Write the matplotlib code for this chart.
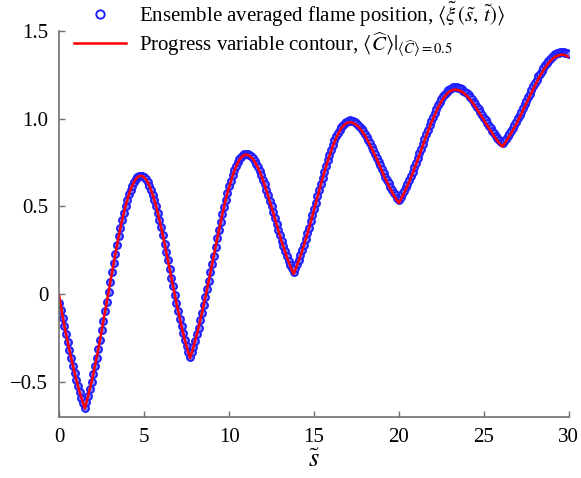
import numpy as np
import matplotlib.pyplot as plt

s_blue = np.round(np.arange(0, 301) * 0.1, 1)

flame_pos = [
    -0.050, -0.093, -0.139, -0.184, -0.230, -0.275, -0.321, -0.365, -0.408, -0.448,
    -0.488, -0.525, -0.560, -0.591, -0.622, -0.648, -0.617, -0.580, -0.541, -0.500,
    -0.457, -0.410, -0.362, -0.312, -0.260, -0.207, -0.153, -0.098, -0.043, 0.013,
    0.068, 0.124, 0.175, 0.228, 0.280, 0.329, 0.377, 0.421, 0.463, 0.500,
    0.536, 0.568, 0.596, 0.619, 0.639, 0.655, 0.666, 0.672, 0.675, 0.672,
    0.665, 0.654, 0.639, 0.619, 0.595, 0.567, 0.535, 0.501, 0.463, 0.422,
    0.380, 0.335, 0.288, 0.240, 0.192, 0.143, 0.093, 0.045, -0.004, -0.053,
    -0.097, -0.142, -0.184, -0.224, -0.263, -0.296, -0.329, -0.360, -0.331, -0.299,
    -0.265, -0.229, -0.191, -0.150, -0.108, -0.064, -0.019, 0.027, 0.075, 0.124,
    0.171, 0.220, 0.269, 0.317, 0.363, 0.409, 0.454, 0.497, 0.539, 0.577,
    0.614, 0.647, 0.678, 0.706, 0.730, 0.751, 0.769, 0.783, 0.792, 0.798,
    0.800, 0.798, 0.793, 0.785, 0.775, 0.761, 0.744, 0.725, 0.703, 0.679,
    0.653, 0.625, 0.595, 0.564, 0.532, 0.500, 0.467, 0.433, 0.400, 0.367,
    0.335, 0.304, 0.274, 0.245, 0.217, 0.191, 0.168, 0.146, 0.125, 0.147,
    0.171, 0.196, 0.223, 0.251, 0.282, 0.313, 0.346, 0.379, 0.414, 0.449,
    0.486, 0.521, 0.558, 0.594, 0.630, 0.664, 0.699, 0.732, 0.764, 0.795,
    0.824, 0.852, 0.876, 0.899, 0.920, 0.938, 0.954, 0.966, 0.977, 0.984,
    0.988, 0.990, 0.989, 0.985, 0.981, 0.974, 0.965, 0.955, 0.943, 0.929,
    0.914, 0.897, 0.879, 0.860, 0.840, 0.820, 0.799, 0.778, 0.756, 0.734,
    0.713, 0.692, 0.670, 0.651, 0.631, 0.612, 0.595, 0.578, 0.563, 0.549,
    0.535, 0.551, 0.569, 0.588, 0.608, 0.629, 0.652, 0.675, 0.699, 0.725,
    0.750, 0.777, 0.804, 0.830, 0.858, 0.885, 0.912, 0.937, 0.963, 0.988,
    1.012, 1.035, 1.056, 1.077, 1.095, 1.112, 1.128, 1.141, 1.153, 1.163,
    1.170, 1.175, 1.179, 1.180, 1.179, 1.177, 1.173, 1.168, 1.161, 1.153,
    1.144, 1.134, 1.123, 1.110, 1.097, 1.083, 1.068, 1.053, 1.038, 1.022,
    1.006, 0.991, 0.975, 0.960, 0.945, 0.930, 0.917, 0.904, 0.891, 0.880,
    0.870, 0.860, 0.872, 0.886, 0.900, 0.915, 0.931, 0.948, 0.965, 0.983,
    1.002, 1.022, 1.041, 1.062, 1.082, 1.103, 1.123, 1.143, 1.164, 1.184,
    1.203, 1.222, 1.241, 1.257, 1.274, 1.290, 1.306, 1.319, 1.331, 1.343,
    1.352, 1.361, 1.368, 1.373, 1.376, 1.379, 1.380, 1.379, 1.377, 1.373,
    1.368,
]

contour = [
    -0.010, -0.070, -0.130, -0.182, -0.230, -0.275, -0.321, -0.365, -0.408, -0.448,
    -0.488, -0.525, -0.560, -0.591, -0.624, -0.652, -0.619, -0.580, -0.541, -0.500,
    -0.457, -0.410, -0.362, -0.312, -0.260, -0.207, -0.153, -0.098, -0.043, 0.013,
    0.068, 0.124, 0.175, 0.228, 0.280, 0.329, 0.377, 0.421, 0.463, 0.500,
    0.536, 0.568, 0.596, 0.619, 0.639, 0.655, 0.666, 0.672, 0.675, 0.672,
    0.665, 0.654, 0.639, 0.619, 0.595, 0.567, 0.535, 0.501, 0.463, 0.422,
    0.380, 0.335, 0.288, 0.240, 0.192, 0.143, 0.093, 0.045, -0.004, -0.053,
    -0.097, -0.142, -0.184, -0.226, -0.266, -0.300, -0.335, -0.366, -0.336, -0.301,
    -0.265, -0.229, -0.191, -0.150, -0.108, -0.064, -0.019, 0.027, 0.075, 0.124,
    0.171, 0.220, 0.269, 0.317, 0.363, 0.409, 0.454, 0.497, 0.539, 0.577,
    0.609, 0.642, 0.673, 0.701, 0.725, 0.746, 0.764, 0.778, 0.787, 0.793,
    0.795, 0.793, 0.788, 0.780, 0.770, 0.756, 0.739, 0.720, 0.698, 0.674,
    0.648, 0.620, 0.590, 0.559, 0.527, 0.495, 0.462, 0.428, 0.395, 0.362,
    0.330, 0.299, 0.269, 0.240, 0.211, 0.184, 0.160, 0.137, 0.115, 0.139,
    0.165, 0.191, 0.218, 0.246, 0.277, 0.308, 0.341, 0.374, 0.409, 0.444,
    0.481, 0.516, 0.553, 0.589, 0.625, 0.659, 0.692, 0.725, 0.756, 0.786,
    0.814, 0.842, 0.866, 0.889, 0.910, 0.928, 0.944, 0.956, 0.967, 0.974,
    0.978, 0.980, 0.979, 0.975, 0.971, 0.964, 0.955, 0.945, 0.933, 0.919,
    0.904, 0.887, 0.869, 0.850, 0.830, 0.810, 0.789, 0.768, 0.746, 0.724,
    0.702, 0.680, 0.658, 0.638, 0.617, 0.598, 0.580, 0.563, 0.547, 0.533,
    0.520, 0.537, 0.556, 0.576, 0.596, 0.617, 0.640, 0.663, 0.687, 0.713,
    0.738, 0.765, 0.792, 0.818, 0.846, 0.873, 0.900, 0.925, 0.951, 0.976,
    0.998, 1.021, 1.042, 1.063, 1.081, 1.098, 1.114, 1.127, 1.139, 1.149,
    1.156, 1.161, 1.165, 1.166, 1.165, 1.163, 1.159, 1.154, 1.147, 1.139,
    1.130, 1.120, 1.109, 1.096, 1.083, 1.069, 1.054, 1.039, 1.024, 1.008,
    0.992, 0.977, 0.961, 0.945, 0.930, 0.915, 0.901, 0.887, 0.874, 0.862,
    0.851, 0.842, 0.856, 0.871, 0.885, 0.900, 0.916, 0.933, 0.950, 0.968,
    0.987, 1.007, 1.026, 1.047, 1.067, 1.088, 1.108, 1.128, 1.149, 1.169,
    1.188, 1.207, 1.226, 1.242, 1.259, 1.275, 1.291, 1.304, 1.316, 1.328,
    1.337, 1.346, 1.353, 1.358, 1.361, 1.364, 1.365, 1.364, 1.362, 1.358,
    1.353,
]

xticks = [0, 5, 10, 15, 20, 25, 30]
yticks = [-0.5, 0, 0.5, 1.0, 1.5]
ytick_labels = ["\u22120.5", "0", "0.5", "1.0", "1.5"]

plt.rcParams['font.family'] = ['Liberation Serif', 'DejaVu Serif']
plt.rcParams['mathtext.fontset'] = 'stix'

fig = plt.figure(figsize=(5.81, 4.78), dpi=100)
ax = fig.add_axes([0.102, 0.128, 0.877, 0.807])

ax.plot(s_blue, flame_pos, 'o', ms=5, mfc='#8080ff', mec='#2020ff', mew=1.4,
        label=r"Ensemble averaged flame position, $\langle\tilde{\xi}\,(\tilde{s},\,\tilde{t})\rangle$")
ax.plot(s_blue, contour, '-', color='red', lw=1.8,
        label=r"Progress variable contour, $\langle\widehat{C}\rangle|_{\langle\widehat{C}\rangle=0.5}$")

ax.set_xlim(0, 30)
ax.set_ylim(-0.7, 1.5)
ax.set_xticks(xticks)
ax.set_yticks(yticks)
ax.set_yticklabels(ytick_labels)
ax.set_xlabel(r"$\tilde{s}$", fontsize=19, labelpad=2)

for side in ['top', 'right']:
    ax.spines[side].set_visible(False)
for side in ['left', 'bottom']:
    ax.spines[side].set_color('#707070')
    ax.spines[side].set_linewidth(1.2)
ax.tick_params(direction='in', length=4, width=1, color='#707070',
               labelsize=15, pad=8)

leg = fig.legend(loc='upper left', bbox_to_anchor=(0.095, 1.04), frameon=False,
                 fontsize=15, markerscale=1.0, handlelength=2.5, handletextpad=0.6,
                 labelspacing=0.05)
leg.legend_handles[0].set_markerfacecolor('none')
leg.legend_handles[0].set_markersize(6)

fig.savefig('out.png', dpi=100)
